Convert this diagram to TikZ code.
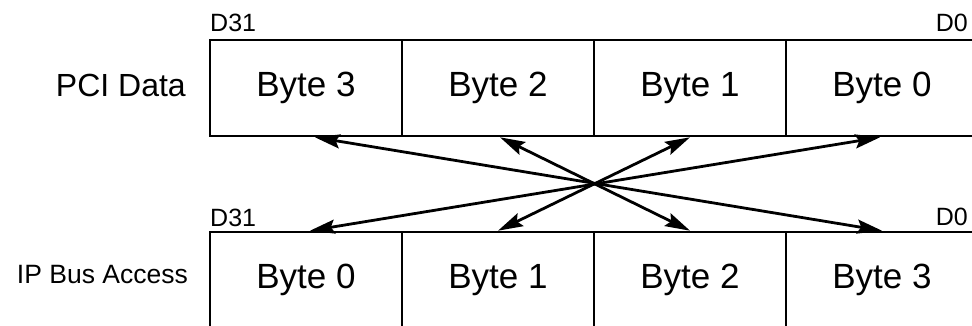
\documentclass[tikz,border=0pt]{standalone}
\usepackage{fontspec}
\setmainfont{Liberation Sans}
\usetikzlibrary{arrows.meta}
\begin{document}
\begin{tikzpicture}[x=1pt,y=-1pt,
  cell/.style={draw,line width=2.6pt,minimum width=192pt,minimum height=96pt,inner sep=0pt,
    font=\fontsize{35}{40}\selectfont},
  bit/.style={inner sep=0pt,font=\fontsize{25}{28}\selectfont},
  rowlabel/.style={inner sep=0pt,anchor=east},
  link/.style={line width=2.8pt,{Stealth[length=25pt,width=14pt,inset=4pt]}-{Stealth[length=25pt,width=14pt,inset=4pt]}}]
\clip (0,0) rectangle (972,325);
\fill[white] (0,0) rectangle (972,325);
% top row
\node[cell] (t3) at (306,88) {Byte 3};
\node[cell] (t2) at (498,88) {Byte 2};
\node[cell] (t1) at (690,88) {Byte 1};
\node[cell] (t0) at (882,88) {Byte 0};
% bottom row
\node[cell] (b0) at (306,280) {Byte 0};
\node[cell] (b1) at (498,280) {Byte 1};
\node[cell] (b2) at (690,280) {Byte 2};
\node[cell] (b3) at (882,280) {Byte 3};
% labels
\node[rowlabel,font=\fontsize{32}{38}\selectfont] (pci) at (186,85) {PCI Data};
\node[rowlabel,font=\fontsize{26.5}{30}\selectfont] (ipb) at (188,275) {IP Bus Access};
\node[bit,anchor=base west] (td31) at (210,31) {D31};
\node[bit,anchor=base east] (td0) at (968,31) {D0};
\node[bit,anchor=base west] (bd31) at (210,226) {D31};
\node[bit,anchor=base east] (bd0) at (968,225) {D0};
% connectors
\draw[link] ([xshift=9pt]t3.south) -- (b3.north);
\draw[link] ([xshift=2pt]t2.south) -- (b2.north);
\draw[link] (t1.south) -- (b1.north);
\draw[link] ([xshift=-2pt]t0.south) -- ([xshift=4pt]b0.north);
\end{tikzpicture}
\end{document}
